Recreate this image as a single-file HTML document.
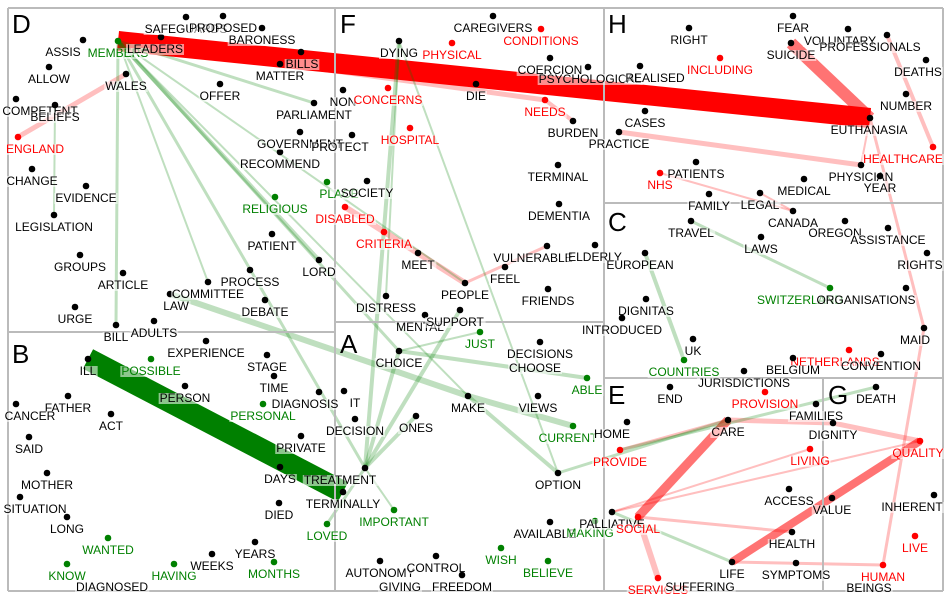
<!DOCTYPE html>
<html><head><meta charset="utf-8">
<style>
html,body{margin:0;padding:0;background:#fff;}
svg{display:block;font-family:"Liberation Sans",Arial,sans-serif;}
</style></head>
<body>
<svg id="chart" width="950" height="600" viewBox="0 0 950 600">
<g id="edges"></g>
<g id="panels"></g>
<g id="nodes"></g>
</svg>
<script>
const nodeNames = ["ASSIS","MEMBERS","LEADERS","SAFEGUARDS","PROPOSED","BARONESS","BILLS","MATTER","WALES","ALLOW","COMPETENT","BELIEFS","ENGLAND","CHANGE","EVIDENCE","LEGISLATION","GROUPS","ARTICLE","URGE","BILL","ADULTS","LAW","COMMITTEE","PROCESS","DEBATE","LORD","PATIENT","RELIGIOUS","PLACE","RECOMMEND","GOVERNMENT","PARLIAMENT","OFFER","NON","PROTECT",
"CAREGIVERS","CONDITIONS","DYING","PHYSICAL","COERCION","PSYCHOLOGICAL","REALISED","DIE","CONCERNS","NEEDS","BURDEN","CASES","PRACTICE","HOSPITAL","SOCIETY","DISABLED","CRITERIA","MEET","PEOPLE","FEEL","VULNERABLE","ELDERLY","TERMINAL","DEMENTIA","FRIENDS","DISTRESS","MENTAL","SUPPORT",
"FEAR","SUICIDE","VOLUNTARY","PROFESSIONALS","DEATHS","NUMBER","EUTHANASIA","HEALTHCARE","PHYSICIAN","YEAR","MEDICAL","RIGHT","INCLUDING","PATIENTS","NHS","FAMILY","LEGAL",
"CANADA","OREGON","ASSISTANCE","TRAVEL","LAWS","EUROPEAN","RIGHTS","SWITZERLAND","ORGANISATIONS","DIGNITAS","INTRODUCED","MAID","UK","COUNTRIES","NETHERLANDS","CONVENTION","BELGIUM","JURISDICTIONS","END",
"ILL","POSSIBLE","EXPERIENCE","STAGE","TIME","DIAGNOSIS","PERSON","PERSONAL","FATHER","CANCER","ACT","SAID","PRIVATE","DAYS","MOTHER","SITUATION","LONG","DIED","WANTED","KNOW","HAVING","WEEKS","YEARS","MONTHS","DIAGNOSED","LOVED",
"CHOICE","JUST","DECISIONS","CHOOSE","ABLE","IT","MAKE","VIEWS","ONES","DECISION","CURRENT","TREATMENT","TERMINALLY","OPTION","IMPORTANT","AVAILABLE","MAKING","PALLIATIVE","WISH","BELIEVE","AUTONOMY","CONTROL","GIVING","FREEDOM",
"HOME","PROVIDE","CARE","PROVISION","SOCIAL","SERVICES","SUFFERING","LIFE","SYMPTOMS","HEALTH","ACCESS","LIVING",
"DEATH","FAMILIES","DIGNITY","QUALITY","VALUE","INHERENT","LIVE","HUMAN","BEINGS"];
const nodeX = [83,118,161,186,223,262,301,280,126,49,16,55,18,32,86,54,80,123,75,116,154,170,208,250,265,319,272,275,327,280,300,314,220,343,352,
493,541,399,452,550,588,640,476,388,545,573,645,619,410,367,345,384,418,465,505,547,595,558,559,548,386,425,460,
793,791,848,887,926,906,870,933,861,880,804,689,720,696,660,709,760,
793,845,888,691,761,645,927,830,906,646,622,924,693,684,849,881,793,744,670,
88,151,206,267,274,319,185,263,68,16,111,29,301,280,47,20,67,279,108,67,174,212,255,274,112,327,
399,480,540,535,587,344,468,538,416,355,573,365,343,558,394,550,595,612,501,548,380,436,400,462,
627,620,728,765,638,658,700,732,796,792,789,810,
876,816,833,920,832,934,915,883,869];
const nodeY = [40,41,37,17,16,28,52,64,74,67,99,105,137,169,186,215,255,273,307,325,321,294,282,270,300,260,234,197,182,152,132,103,84,90,135,
16,29,41,43,58,67,66,84,88,100,121,111,132,128,181,207,232,253,283,267,246,245,165,204,289,296,315,310,
16,43,29,35,60,94,118,147,165,176,179,28,58,162,173,194,193,
211,221,228,221,237,253,253,288,288,299,318,328,339,360,350,354,358,371,387,
359,359,341,355,376,392,386,404,396,404,414,437,436,467,473,497,517,503,538,564,564,554,542,562,575,524,
351,332,342,356,378,391,396,396,416,419,426,468,492,473,510,522,521,512,548,561,561,556,575,575,
422,450,420,392,517,578,575,562,563,532,489,449,
387,404,423,441,498,495,536,565,576];
const nodeHasDot = nodeNames.map(n => !["CHOOSE","GIVING","SUFFERING","BEINGS","DIAGNOSED"].includes(n));
const nodeColor = ["k","g","k","k","k","k","k","k","k","k","k","k","r","k","k","k","k","k","k","k","k","k","k","k","k","k","k","g","g","k","k","k","k","k","k",
"k","r","k","r","k","k","k","k","r","r","k","k","k","r","k","r","r","k","k","k","k","k","k","k","k","k","k","k",
"k","k","k","k","k","k","k","r","k","k","k","k","r","k","r","k","k",
"k","k","k","k","k","k","k","g","k","k","k","k","k","g","r","k","k","k","k",
"k","g","k","k","k","k","k","g","k","k","k","k","k","k","k","k","k","k","g","g","g","k","k","g","k","g",
"k","g","k","k","g","k","k","k","k","k","g","k","k","k","g","k","g","k","g","g","k","k","k","k",
"k","r","k","r","r","r","k","k","k","k","k","r",
"k","k","k","r","k","k","r","r","k"];
const labelShift = [-20,0,-6,0,0,0,1,0,0,0,24,0,17,0,0,0,0,0,0,0,0,6,0,0,0,0,0,0,12,0,0,0,0,0,-12,
0,0,0,0,0,2,15,0,0,0,0,0,0,0,0,0,0,0,0,0,-14,0,0,0,0,0,-5,-5,
0,0,-8,-17,-8,0,-1,-30,0,0,0,0,0,0,0,0,0,
0,-10,0,0,0,-5,-7,-30,-40,0,0,-9,0,0,-14,0,0,0,0,
0,0,0,0,0,-14,0,0,0,14,0,0,0,0,0,15,0,0,0,0,0,0,0,0,0,0,
0,0,0,0,0,11,0,0,0,0,-5,-25,0,0,0,-5,-5,0,0,0,0,0,0,0,
-15,0,0,0,0,0,0,0,0,0,0,0,
0,0,0,-2,0,-22,0,0,0];
const edgeFrom = ["MEMBERS","ILL","SUICIDE","CARE","LIFE","SOCIAL","CARE","DIGNITY","HEALTHCARE","HUMAN","LIFE","SOCIAL","PROVIDE","PRACTICE","DISABLED","PEOPLE","ENGLAND","MEMBERS","NHS","EUTHANASIA","PALLIATIVE","PALLIATIVE","MEMBERS","MEMBERS","MEMBERS","MEMBERS","MEMBERS","MEMBERS","LAW","MAKE","CHOICE","DYING","CHOICE","SUPPORT","ONES","MAKE","OPTION","COUNTRIES","TRAVEL","LIFE","DEATH","TREATMENT","DYING","DYING","MEMBERS","BELIEFS","EUTHANASIA","NEEDS","LEGAL","MEMBERS","CHOICE","TREATMENT"];
const edgeTo = ["EUTHANASIA","TERMINALLY","EUTHANASIA","SOCIAL","QUALITY","SERVICES","DIGNITY","QUALITY","PROFESSIONALS","MAID","HUMAN","HEALTH","CARE","PHYSICIAN","PEOPLE","VULNERABLE","WALES","NEEDS","CANADA","MAID","LIVING","QUALITY","LORD","TREATMENT","BILL","CHOICE","PARLIAMENT","COMMITTEE","MAKE","CURRENT","ABLE","TREATMENT","TREATMENT","TREATMENT","TREATMENT","OPTION","CARE","EUROPEAN","SWITZERLAND","PALLIATIVE","PROVIDE","LOVED","DISTRESS","OPTION","MAKE","LEGISLATION","PHYSICIAN","BURDEN","CANADA","PEOPLE","JUST","IMPORTANT"];
const edgeWeight = [20,22,12,9,8,6,5,5,4,3,3,3,3,5,6,3,5,5,2,3,2,2,4,3,3,3,3,2,6,6,4,4,4,4,4,4,3,4,3,3,3,3,2,2,2,2,2,4,2,2,2,2];
const edgeColor = ["r","g","r","r","r","r","r","r","r","r","r","r","r","r","r","r","r","r","r","r","r","r","g","g","g","g","g","g","g","g","g","g","g","g","g","g","g","g","g","g","g","g","g","g","g","g","r","r","r","g","g","g"];
const panelLetters = ["D","F","H","C","B","A","E","G"];
const panelLetterX = [12,340,608,608,12,340,608,828];
const panelLetterY = [33,33,33,231,363,353,404,404];

const NS = "http://www.w3.org/2000/svg";
const idx = {};
nodeNames.forEach((n,i)=>idx[n]=i);
const fillOf = c => c==="r" ? "#ff0000" : (c==="g" ? "#008000" : "#000");
const eg = document.getElementById("edges");
for (let i=0;i<edgeFrom.length;i++){
  const a = idx[edgeFrom[i]], b = idx[edgeTo[i]];
  const l = document.createElementNS(NS,"line");
  l.setAttribute("x1",nodeX[a]); l.setAttribute("y1",nodeY[a]);
  l.setAttribute("x2",nodeX[b]); l.setAttribute("y2",nodeY[b]);
  const big = edgeWeight[i] >= 15;
  const col = edgeColor[i]==="r" ? "#ff0000" : "#008000";
  l.setAttribute("stroke",col);
  l.setAttribute("stroke-width",edgeWeight[i]);
  l.setAttribute("stroke-opacity", big ? 1 : (edgeColor[i]==="r" ? (edgeWeight[i]>=8?0.55:0.25) : 0.25));
  
  
  eg.appendChild(l);
}
const pg = document.getElementById("panels");
const borders = [[8,8,943,8],[8,591,943,591],[8,8,8,591],[943,8,943,591],[335,8,335,591],[604,8,604,591],[8,332,335,332],[335,322,604,322],[604,203,943,203],[604,378,943,378],[823,378,823,591]];
borders.forEach(b=>{
  const l=document.createElementNS(NS,"line");
  l.setAttribute("x1",b[0]);l.setAttribute("y1",b[1]);l.setAttribute("x2",b[2]);l.setAttribute("y2",b[3]);
  l.setAttribute("stroke","#bbb");l.setAttribute("stroke-width","2");
  
  
  pg.appendChild(l);
});
for (let i=0;i<panelLetters.length;i++){
  const t=document.createElementNS(NS,"text");
  t.setAttribute("x",panelLetterX[i]);t.setAttribute("y",panelLetterY[i]);
  t.setAttribute("font-size","26");t.textContent=panelLetters[i];
  
  
  pg.appendChild(t);
}
const ng = document.getElementById("nodes");
for (let i=0;i<nodeNames.length;i++){
  const g=document.createElementNS(NS,"g");
  
  
  const y = nodeY[i];
  if (nodeHasDot[i]){
    const c=document.createElementNS(NS,"circle");
    c.setAttribute("cx",nodeX[i]);c.setAttribute("cy",y);c.setAttribute("r","3.3");
    c.setAttribute("fill",fillOf(nodeColor[i]));
    
    
    g.appendChild(c);
  }
  const ly = y+16;
  const bg=document.createElementNS(NS,"rect");
  
  
  g.appendChild(bg);
  const t=document.createElementNS(NS,"text");
  t.setAttribute("x",nodeX[i]+labelShift[i]);t.setAttribute("y",ly);
  t.setAttribute("text-anchor","middle");t.setAttribute("font-size","12");
  t.setAttribute("fill",fillOf(nodeColor[i]));
  t.textContent=nodeNames[i];
  
  
  g.appendChild(t);
  ng.appendChild(g);
  const bb=t.getBBox();
  bg.setAttribute("x",bb.x-1);bg.setAttribute("y",bb.y+2);
  bg.setAttribute("width",bb.width+2);bg.setAttribute("height",bb.height-3);
  bg.setAttribute("fill","#fff");bg.setAttribute("fill-opacity","0.55");
}
</script>
</body></html>
